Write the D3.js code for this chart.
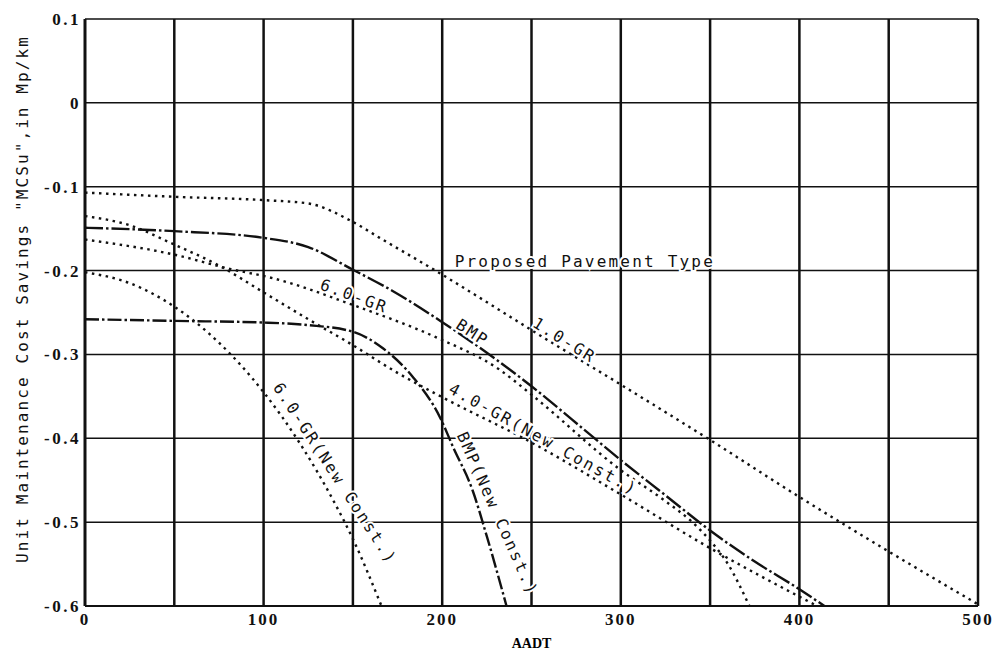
<!DOCTYPE html>
<html>
<head>
	<meta charset="utf-8">
	<title>MCSu vs AADT</title>
	<script src="https://d3js.org/d3.v7.min.js"></script>
	<style>
		body { margin: 0; background: #fff; }
		.mono { font-family: "DejaVu Sans Mono", monospace; fill: #111; }
		.tick-label { font-family: "Liberation Serif", serif; font-size: 17px; font-weight: bold; fill: #111; }
	</style>
</head>
<body>
	<script type="text/javascript">

		// Values (AADT vs savings in Mp/km)
		var gr10X = [0, 50, 100, 125, 150, 165, 197, 232, 250, 300, 350, 400, 450, 500];
		var gr10Y = [-0.107, -0.112, -0.116, -0.12, -0.142, -0.161, -0.201, -0.247, -0.271, -0.336, -0.402, -0.47, -0.535, -0.598];

		var bmpX = [0, 50, 100, 125, 150, 172, 199, 225, 250, 283, 300, 325, 350, 375, 400, 414];
		var bmpY = [-0.149, -0.153, -0.161, -0.172, -0.199, -0.224, -0.26, -0.298, -0.338, -0.396, -0.426, -0.468, -0.51, -0.547, -0.58, -0.6];

		var gr60X = [0, 50, 81, 105, 150, 197, 232, 250, 300, 325, 340, 350, 360, 372];
		var gr60Y = [-0.163, -0.181, -0.198, -0.209, -0.241, -0.28, -0.318, -0.348, -0.438, -0.475, -0.5, -0.522, -0.55, -0.6];

		var gr40NewX = [0, 25, 50, 75, 100, 125, 150, 175, 200, 250, 300, 350, 410];
		var gr40NewY = [-0.135, -0.146, -0.169, -0.194, -0.226, -0.258, -0.289, -0.322, -0.351, -0.405, -0.467, -0.531, -0.6];

		var gr60NewX = [0, 25, 50, 75, 100, 120, 140, 150, 166];
		var gr60NewY = [-0.202, -0.215, -0.243, -0.286, -0.345, -0.405, -0.478, -0.52, -0.6];

		var bmpNewX = [0, 50, 100, 125, 150, 167, 184, 199, 206, 217, 225, 236];
		var bmpNewY = [-0.258, -0.26, -0.262, -0.265, -0.273, -0.293, -0.328, -0.376, -0.41, -0.462, -0.517, -0.6];

		var xGrid = [0, 50, 100, 150, 200, 250, 300, 350, 400, 450, 500];
		var yGrid = [0.1, 0, -0.1, -0.2, -0.3, -0.4, -0.5, -0.6];
		var xTicks = [0, 100, 200, 300, 400, 500];
		var xTickLabels = ['0', '100', '200', '300', '400', '500'];
		var yTickLabels = ['0.1', '0', '-0.1', '-0.2', '-0.3', '-0.4', '-0.5', '-0.6'];

		var outerWidth = 1000, outerHeight = 655;

		var x = d3.scaleLinear().domain([0, 500]).range([85, 978]);
		var y = d3.scaleLinear().domain([-0.6, 0.1]).range([606, 19]);

		var chart = d3.select('body')
					  .append('svg')
					  .attr('width', outerWidth)
					  .attr('height', outerHeight)
					  .append('g');

		// Grid: thin horizontals, heavy verticals
		chart.selectAll('line.hgrid')
			 .data(yGrid)
			 .enter()
			 .append('line')
			 .attr('class', 'hgrid')
			 .attr('x1', x(0)).attr('x2', x(500))
			 .attr('y1', function(d) { return y(d); })
			 .attr('y2', function(d) { return y(d); })
			 .attr('stroke', '#111')
			 .attr('stroke-width', function(d) { return d === -0.6 ? 2 : 1.5; });

		chart.selectAll('line.vgrid')
			 .data(xGrid)
			 .enter()
			 .append('line')
			 .attr('class', 'vgrid')
			 .attr('x1', function(d) { return x(d); })
			 .attr('x2', function(d) { return x(d); })
			 .attr('y1', y(0.1)).attr('y2', y(-0.6))
			 .attr('stroke', '#111')
			 .attr('stroke-width', function(d) { return d === 0 ? 3 : 2.5; });

		// Curves
		var series = [
			{ xs: gr10X, ys: gr10Y, dash: '2.5,4.5' },
			{ xs: bmpX, ys: bmpY, dash: '18,3,2.5,3' },
			{ xs: gr60X, ys: gr60Y, dash: '2.5,4.5' },
			{ xs: gr40NewX, ys: gr40NewY, dash: '2.5,4.5' },
			{ xs: gr60NewX, ys: gr60NewY, dash: '2.5,4.5' },
			{ xs: bmpNewX, ys: bmpNewY, dash: '14,3,2.5,3' }
		];

		var line = d3.line()
					 .x(function(d) { return x(d[0]); })
					 .y(function(d) { return y(d[1]); })
					 .curve(d3.curveMonotoneX);

		chart.selectAll('path.curve')
			 .data(series)
			 .enter()
			 .append('path')
			 .attr('class', 'curve')
			 .attr('d', function(s) { return line(d3.zip(s.xs, s.ys)); })
			 .attr('fill', 'none')
			 .attr('stroke', '#111')
			 .attr('stroke-width', 2.4)
			 .attr('stroke-dasharray', function(s) { return s.dash; });

		// Curve labels
		var labels = [
			{ text: 'Proposed Pavement Type', at: [207, -0.196], rot: 0 },
			{ text: '6.0-GR', at: [131, -0.222], rot: 20 },
			{ text: 'BMP', at: [207, -0.268], rot: 33 },
			{ text: '1.0-GR', at: [250, -0.266], rot: 32 },
			{ text: '4.0-GR(New Const.)', at: [203, -0.345], rot: 29 },
			{ text: '6.0-GR(New Const.)', at: [105, -0.339], rot: 57 },
			{ text: 'BMP(New Const.)', at: [208, -0.396], rot: 66 }
		];

		chart.selectAll('text.curve-label')
			 .data(labels)
			 .enter()
			 .append('text')
			 .attr('class', 'curve-label mono')
			 .attr('transform', function(d) {
			 	return 'translate(' + x(d.at[0]) + ',' + y(d.at[1]) + ') rotate(' + d.rot + ')';
			 })
			 .style('font-size', '16px')
			 .style('letter-spacing', '2.2px')
			 .style('stroke', '#fff')
			 .style('stroke-width', '4px')
			 .style('paint-order', 'stroke')
			 .text(function(d) { return d.text; });

		// Tick labels
		chart.selectAll('text.xtick')
			 .data(xTicks)
			 .enter()
			 .append('text')
			 .attr('class', 'tick-label')
			 .attr('x', function(d) { return x(d); })
			 .attr('y', 625)
			 .style('text-anchor', 'middle')
			 .style('letter-spacing', '2px')
			 .text(function(d, i) { return xTickLabels[i]; });

		chart.selectAll('text.ytick')
			 .data(yGrid)
			 .enter()
			 .append('text')
			 .attr('class', 'tick-label')
			 .attr('x', 81)
			 .attr('y', function(d) { return y(d) + 6; })
			 .style('text-anchor', 'end')
			 .style('letter-spacing', '2.5px')
			 .text(function(d, i) { return yTickLabels[i]; });

		// Axis titles
		chart.append('text')
			 .attr('x', x(250))
			 .attr('y', 648)
			 .style('text-anchor', 'middle')
			 .style('font-family', '"Liberation Serif", serif')
			 .style('font-size', '14px')
			 .style('font-weight', 'bold')
			 .text('AADT');

		chart.append('text')
			 .attr('class', 'mono')
			 .attr('transform', 'translate(28,299) rotate(-90)')
			 .style('text-anchor', 'middle')
			 .style('font-size', '16px')
			 .style('letter-spacing', '2.1px')
			 .text('Unit Maintenance Cost Savings "MCSu",in Mp/km');

	</script>
</body>
</html>
